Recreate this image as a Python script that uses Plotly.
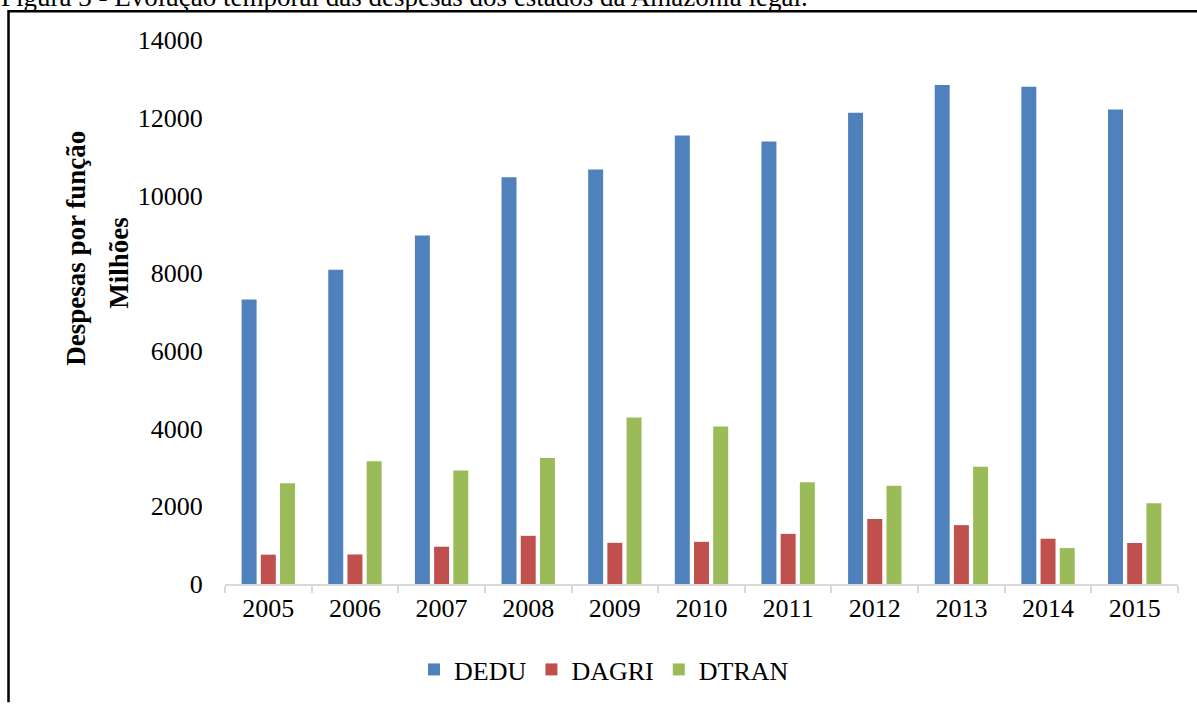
import plotly.graph_objects as go

# Despesas anuais por função (milhões de R$)
anos = ["2005", "2006", "2007", "2008", "2009", "2010", "2011", "2012", "2013", "2014", "2015"]
dedu = [7320, 8085, 8970, 10470, 10670, 11540, 11390, 12125, 12840, 12800, 12210]
dagri = [755, 760, 960, 1240, 1060, 1085, 1290, 1675, 1515, 1165, 1055]
dtran = [2595, 3160, 2920, 3245, 4285, 4055, 2620, 2530, 3015, 925, 2075]

series = [("DEDU", dedu, "#4F81BD"), ("DAGRI", dagri, "#C0504D"), ("DTRAN", dtran, "#9BBB59")]

W, H = 1197, 705
L, R, T, B = 225, 19, 40, 118
PW, PH = W - L - R, H - T - B


def px(x):
    return (x - L) / PW


def py(y):
    return (H - B - y) / PH


FONT = "Liberation Serif, Times New Roman, serif"

fig = go.Figure()
for name, vals, color in series:
    fig.add_trace(go.Bar(x=anos, y=vals, name=name, marker_color=color,
                         marker_line_width=0))

fig.update_layout(
    width=W, height=H,
    margin=dict(l=L, r=R, t=T, b=B),
    paper_bgcolor="white", plot_bgcolor="white",
    font=dict(family=FONT, size=26, color="black"),
    barmode="group", bargap=0.335, bargroupgap=0.22,
    showlegend=True,
    legend=dict(orientation="h", x=px(414), xanchor="left", y=py(673), yanchor="middle",
                font=dict(family=FONT, size=26), bgcolor="rgba(0,0,0,0)",
                itemclick=False),
    xaxis=dict(showline=True, linecolor="#D9D9D9", linewidth=1.5,
               ticks="outside", tickson="boundaries", ticklen=7, tickcolor="#D9D9D9",
               tickwidth=1.5, showgrid=False, tickfont=dict(family=FONT, size=26)),
    yaxis=dict(range=[0, 14000], dtick=2000, tickformat="d", showgrid=False,
               zeroline=False, showline=False, ticks="outside", ticklen=16,
               tickcolor="rgba(0,0,0,0)", tickfont=dict(family=FONT, size=26)),
)

# Título do eixo vertical (duas linhas)
fig.add_annotation(text="<b>Despesas por função</b>", xref="paper", yref="paper",
                   x=px(76), y=py(250), xanchor="center", yanchor="middle",
                   textangle=-90, showarrow=False, font=dict(family=FONT, size=27))
fig.add_annotation(text="<b>Milhões</b>", xref="paper", yref="paper",
                   x=px(119), y=py(264), xanchor="center", yanchor="middle",
                   textangle=-90, showarrow=False, font=dict(family=FONT, size=27))

# Legenda da figura
fig.add_annotation(text="Figura 3 - Evolução temporal das despesas dos estados da Amazônia legal.",
                   xref="paper", yref="paper", x=px(-1), y=py(14), xanchor="left",
                   yanchor="bottom", showarrow=False, font=dict(family=FONT, size=27))

# Moldura
fig.add_shape(type="path", xref="paper", yref="paper",
              path=f"M {px(8.5)},{py(706)} L {px(8.5)},{py(11)} L {px(1199)},{py(11)}",
              line=dict(color="black", width=2.5))

fig.write_html("out.html")
